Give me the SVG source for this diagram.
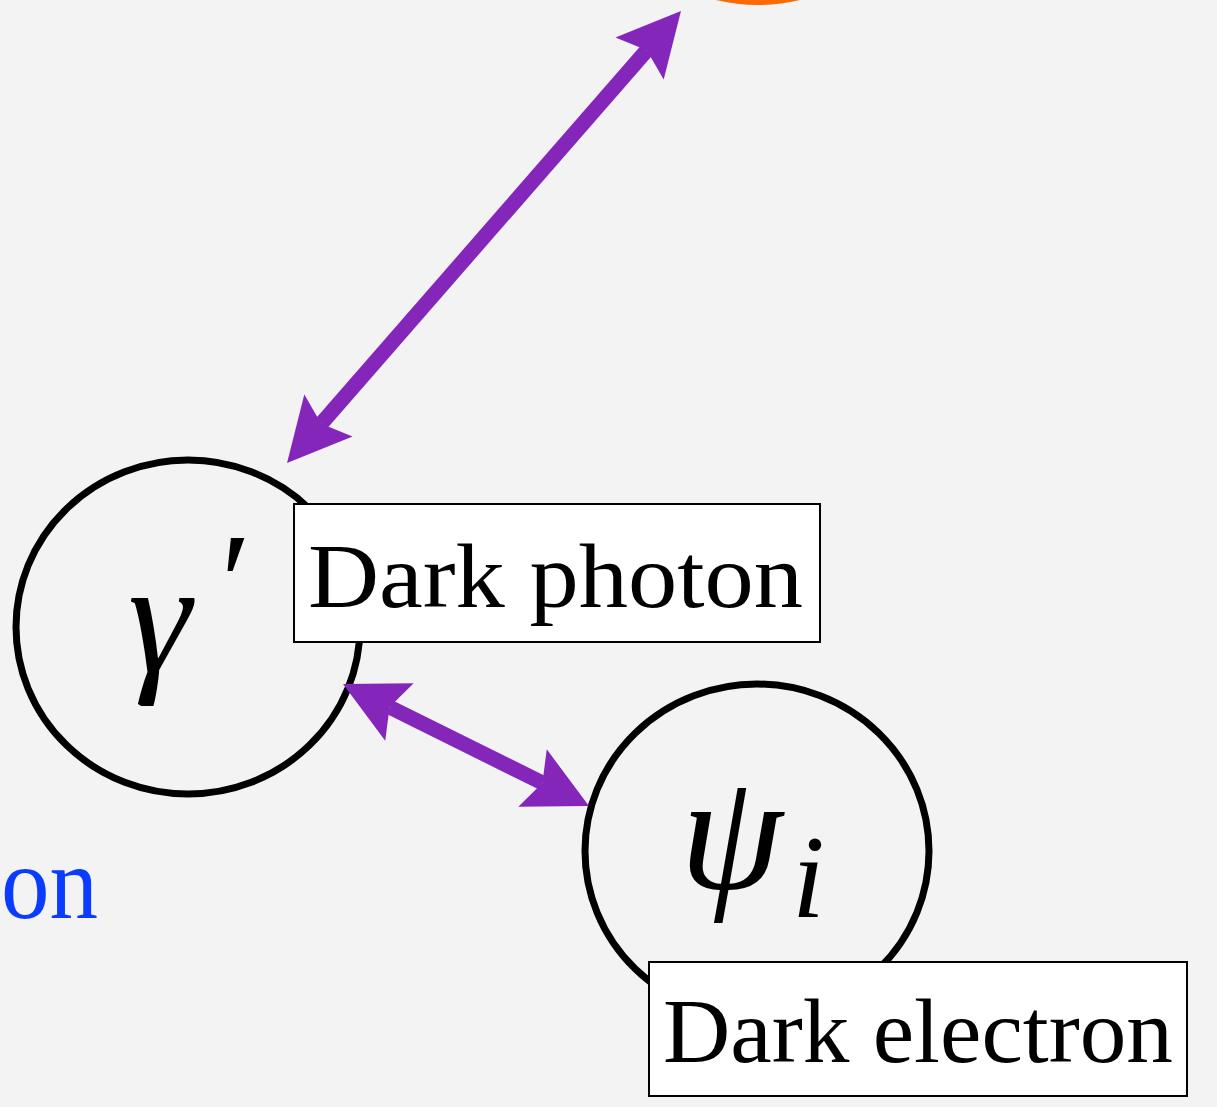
<svg xmlns="http://www.w3.org/2000/svg" width="1217" height="1107" viewBox="0 0 1217 1107">
<style>
.node{fill:none;stroke:#000;stroke-width:7}
.lbl{fill:#fff;stroke:#000;stroke-width:2}
.lt{font-family:"Liberation Serif","DejaVu Serif",serif;font-size:90px;fill:#000}
.math{font-family:"Liberation Serif","DejaVu Serif",serif;font-style:italic;fill:#000}
.conn{stroke:#8526BA;stroke-width:15;fill:none}
</style>
<defs>
<marker id="ah" markerUnits="userSpaceOnUse" viewBox="-12 -33 66 66" refX="0" refY="0" markerWidth="66" markerHeight="66" orient="auto-start-reverse" overflow="visible">
<path d="M52,0 L-11,-32 L0,0 L-11,32 Z" fill="#8526BA"/>
</marker>
</defs>
<rect width="1217" height="1107" fill="#f3f3f3"/>
<g id="top-node">
<ellipse cx="758" cy="-168" rx="172" ry="170" fill="none" stroke="#ff6a00" stroke-width="6"/>
</g>
<g id="photon-label-left">
<text x="1" y="918" textLength="97" lengthAdjust="spacingAndGlyphs" font-family="Liberation Serif, DejaVu Serif, serif" font-size="104" fill="#0a3cff">on</text>
</g>
<g id="dark-photon">
<ellipse class="node" cx="188" cy="627" rx="172" ry="167"/>
<text class="math" x="128" y="672" font-size="160" font-weight="300">γ</text>
<text class="math" x="212" y="630" font-size="140">′</text>
<rect class="lbl" x="294" y="504" width="526" height="138"/>
<text class="lt" x="308" y="607" textLength="495" lengthAdjust="spacingAndGlyphs">Dark photon</text>
</g>
<g id="dark-electron">
<ellipse class="node" cx="757" cy="851" rx="172" ry="167"/>
<text class="math" x="680" y="888" font-size="165">ψ</text>
<text class="math" x="792" y="917" font-size="118">i</text>
<rect class="lbl" x="649" y="962" width="538" height="134"/>
<text class="lt" x="663" y="1062" textLength="510" lengthAdjust="spacingAndGlyphs">Dark electron</text>
</g>
<g id="connectors">
<line class="conn" x1="321.2" y1="423.8" x2="646.8" y2="50.2" marker-start="url(#ah)" marker-end="url(#ah)"/>
<line class="conn" x1="389.6" y1="707.1" x2="542.4" y2="782.9" marker-start="url(#ah)" marker-end="url(#ah)"/>
</g>
</svg>
